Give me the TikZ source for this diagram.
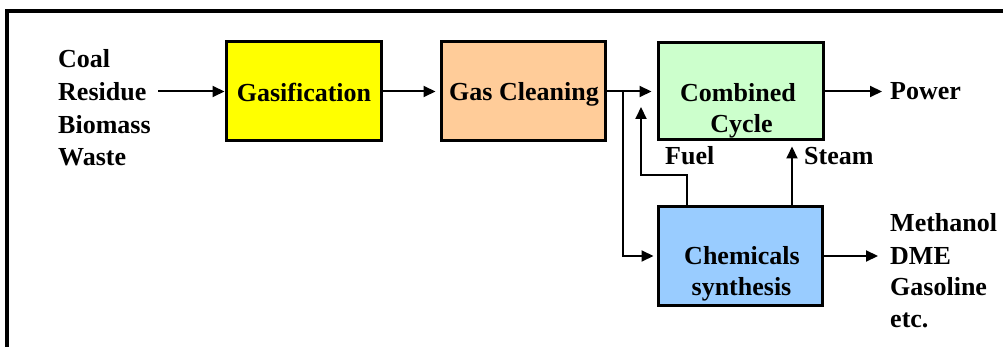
\documentclass[tikz,border=0pt]{standalone}
\usepackage{fontspec}
\newfontfamily\tnr{LiberationSerif}[Extension=.ttf, UprightFont=*-Regular, BoldFont=*-Bold]
\usetikzlibrary{arrows.meta}
\definecolor{cyellow}{HTML}{FFFF00}
\definecolor{cpeach}{HTML}{FFCC99}
\definecolor{cgreen}{HTML}{CCFFCC}
\definecolor{cblue}{HTML}{99CCFF}
\tikzset{
  box/.style={draw=black, line width=3pt, inner sep=0pt, rectangle},
  txt/.style={inner sep=0pt, font=\tnr\bfseries\fontsize{26}{31}\selectfont, anchor=base west},
  ctxt/.style={txt, anchor=base},
  arr/.style={line width=2pt, -{Triangle[length=12pt,width=11pt]}},
  ln/.style={line width=2pt},
}
\begin{document}
\begin{tikzpicture}[x=1pt,y=-1pt]
\useasboundingbox (0,0) rectangle (1003,347);
% frame
\draw[line width=3.5pt] (7,350) -- (7,11) -- (1006,11);

% boxes
\node[box, fill=cyellow, minimum width=155pt, minimum height=99pt] (gas) at (303.5,91.5) {};
\node[box, fill=cpeach, minimum width=164pt, minimum height=99pt] (clean) at (523,91.5) {};
\node[box, fill=cgreen, minimum width=165pt, minimum height=97pt] (cc) at (740.5,91.5) {};
\node[box, fill=cblue, minimum width=164pt, minimum height=98pt] (chem) at (740,256) {};

% box texts
\node[ctxt] (gastxt) at (304,102) {Gasification};
\node[ctxt] (cleantxt) at (524,101) {Gas Cleaning};
\node[ctxt] (cctxt1) at (738,102) {Combined};
\node[ctxt] (cctxt2) at (741.5,133) {Cycle};
\node[ctxt] (chemtxt1) at (742,265) {Chemicals};
\node[ctxt] (chemtxt2) at (741.5,295) {synthesis};

% inputs
\node[txt] (coal) at (58,68) {Coal};
\node[txt] (res) at (58,101) {Residue};
\node[txt] (bio) at (58,133.5) {Biomass};
\node[txt] (waste) at (58,166) {Waste};

% outputs
\node[txt] (power) at (890,100) {Power};
\node[txt] (meth) at (890,232) {Methanol};
\node[txt] (dme) at (890,265) {DME};
\node[txt] (gasol) at (890,295) {Gasoline};
\node[txt] (etc) at (890,327) {etc.};

% side labels
\node[txt] (fuel) at (665,165) {Fuel};
\node[txt] (steam) at (804,165) {Steam};

% coordinates
\coordinate (br) at (623,91.5);
\coordinate (f1) at (687,175);
\coordinate (f2) at (641,175);
\coordinate (f3) at (641,107);
\coordinate (st) at (792,0);
\coordinate (powtip) at (882,91.5);
\coordinate (prodtip) at (878,256);
\coordinate (instart) at (158,91.5);

% connectors
\draw[arr] (instart) -- (instart -| gas.west);
\draw[arr, shorten >=4pt] (gas.east) -- (clean.west);
\draw[arr, shorten >=5pt] (clean.east) -- (cc.west);
\draw[arr, shorten >=3pt] (br) |- (chem.west);
\draw[arr] (chem.north -| f1) -- (f1) -- (f2) -- (f3);
\draw[arr, shorten >=5pt] (chem.north -| st) -- (cc.south -| st);
\draw[arr] (cc.east) -- (powtip);
\draw[arr] (chem.east) -- (prodtip);
\end{tikzpicture}
\end{document}
